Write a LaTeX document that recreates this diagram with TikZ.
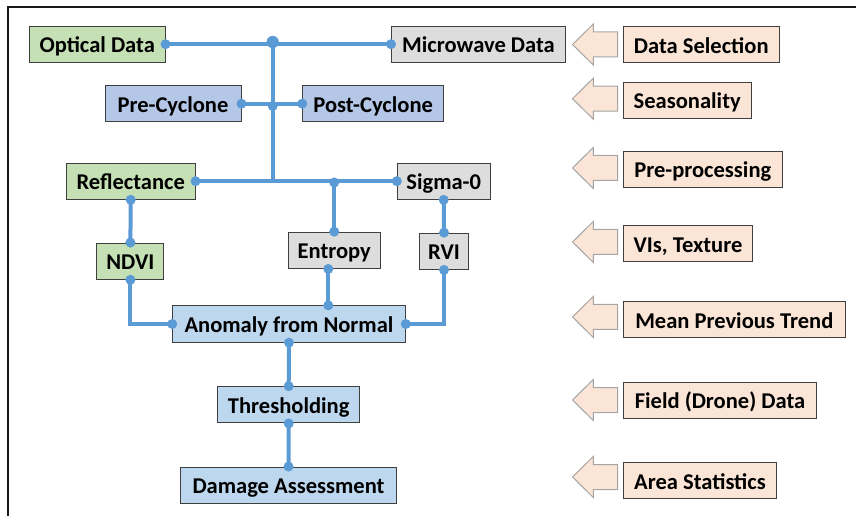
\documentclass[tikz,border=0pt]{standalone}
\usepackage{fontspec}
\setmainfont{Carlito}
\usetikzlibrary{calc}
\definecolor{lnblue}{HTML}{5B9BD5}
\definecolor{boxline}{HTML}{3F3F3F}
\definecolor{fgreen}{HTML}{C5E0B4}
\definecolor{fgray}{HTML}{DDDDDD}
\definecolor{fblue}{HTML}{B4C7E7}
\definecolor{flblue}{HTML}{BDD7EE}
\definecolor{fpeach}{HTML}{FBE5D6}
\definecolor{arrline}{HTML}{A5A5A5}
\begin{document}
\begin{tikzpicture}[x=0.75pt,y=-0.75pt,
  box/.style={draw=boxline, line width=0.75pt, minimum height=27.2pt, inner sep=0pt,
    text height=16pt, text depth=3.2pt, font=\fontsize{16.9}{20}\selectfont\bfseries},
  bw/.style={minimum width={#1*0.75pt}},
  green/.style={box, fill=fgreen},
  gray/.style={box, fill=fgray},
  blue/.style={box, fill=fblue},
  lblue/.style={box, fill=flblue},
  peach/.style={box, fill=fpeach},
  conn/.style={draw=lnblue, line width=3pt},
  dot/.style={fill=lnblue},
  blockarrow/.style={fill=fpeach, draw=arrline, line width=0.75pt, line join=miter}
]
\useasboundingbox (0,0) rectangle (856,516);
\begin{scope}
\clip (0,0) rectangle (856,516);
\draw[line width=1.5pt, black!90] (8,530) -- (8,7) -- (870,7);
\end{scope}

% left nodes
\node[green, bw=135.7] (opt) at (97.2,44.2) {Optical Data};
\node[gray, bw=174] (mic) at (478.5,44.2) {Microwave Data};
\node[blue, bw=136] (pre) at (173,103.7) {Pre-Cyclone};
\node[blue, bw=141] (post) at (373.2,103.7) {Post-Cyclone};
\node[green, bw=128.7] (refl) at (130.7,181.2) {Reflectance};
\node[gray, bw=92.7] (sig) at (443.7,181.2) {Sigma-0};
\node[green, bw=67] (ndvi) at (130.4,261.2) {NDVI};
\node[gray, bw=92.3] (ent) at (334.2,250.3) {Entropy};
\node[gray, bw=48.7] (rvi) at (444,251.3) {RVI};
\node[lblue, bw=232.6] (anom) at (289,324) {Anomaly from Normal};
\node[lblue, bw=142.4] (thr) at (288.7,404.8) {Thresholding};
\node[lblue, bw=215.3] (dmg) at (288.5,485.2) {Damage Assessment};

% right nodes
\node[peach, bw=156] (ds) at (701.3,44.7) {Data Selection};
\node[peach, bw=127.7] (sea) at (687.2,100.3) {Seasonality};
\node[peach, bw=159] (pp) at (702.8,169.2) {Pre-processing};
\node[peach, bw=129.4] (vis) at (688,243.8) {VIs, Texture};
\node[peach, bw=222] (mpt) at (734.3,319.5) {Mean Previous Trend};
\node[peach, bw=193.4] (fdd) at (720,400.3) {Field (Drone) Data};
\node[peach, bw=153.4] (as) at (700,480.5) {Area Statistics};

% block arrows
\foreach \c in {44.5,98.7,168,242,317,400,477}{
  \draw[blockarrow] (572.5,\c) -- (593.3,\c-20.5) -- (593.3,\c-12.5) -- (617.7,\c-12.5)
    -- (617.7,\c+12.5) -- (593.3,\c+12.5) -- (593.3,\c+20.5) -- cycle;
}

% connectors
\coordinate (jt) at (272.7,42);
\coordinate (jm) at (272.7,106);
\coordinate (je) at (334.2,182.5);
\coordinate (eb) at ($(ent.south)+(-5.9,0)$);
\path[conn] (opt.east) -- (mic.west);
\path[conn] (pre.east) -- (post.west);
\path[conn] (refl.east) -- (sig.west);
\path[conn] (jt) -- (jt |- refl.east);
\path[conn] (je) -- (ent.north);
\path[conn] (refl.south) -- (ndvi.north);
\path[conn] (sig.south) -- (rvi.north);
\path[conn] (ndvi.south) |- (anom.west);
\path[conn] (rvi.south) |- (anom.east);
\path[conn] (eb) -- (eb |- anom.north);
\path[conn] (anom.south) -- (thr.north);
\path[conn] (thr.south) -- (dmg.north);

% dots
\foreach \p in {opt.east, mic.west, pre.east, post.west, refl.east, sig.west,
  jm, je, ent.north, refl.south, ndvi.north, sig.south, rvi.north,
  ndvi.south, rvi.south, anom.west, anom.east, eb, anom.south, thr.north,
  thr.south, dmg.north}{
  \fill[dot] (\p) circle[radius=3.75pt];
}
\fill[dot] (jt) circle[radius=4.6pt];
\fill[dot] (eb |- anom.north) circle[radius=3.75pt];
\end{tikzpicture}
\end{document}
